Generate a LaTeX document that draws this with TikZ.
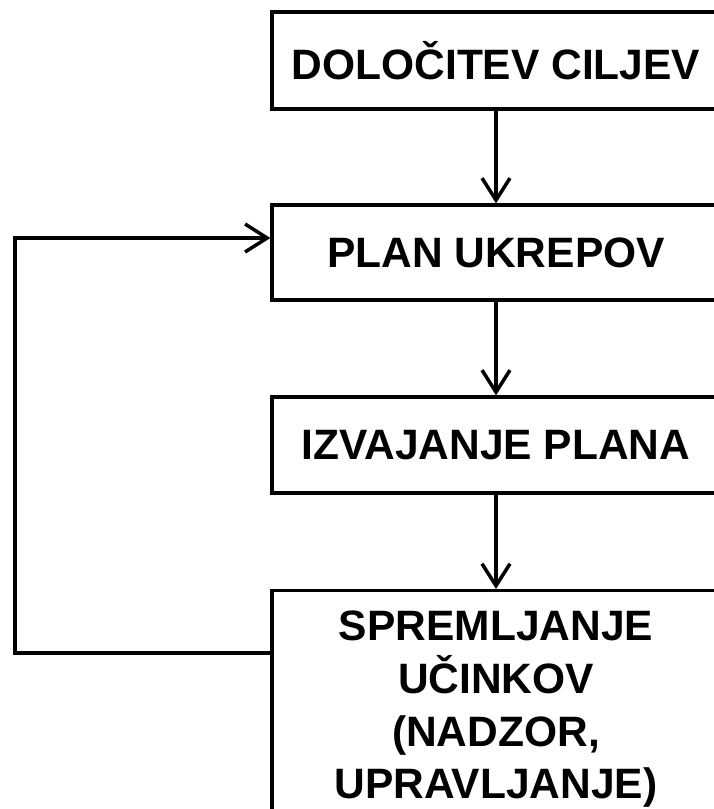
\documentclass[tikz,border=0pt]{standalone}
\usepackage{fontspec}
\setmainfont{Liberation Sans}
\usetikzlibrary{arrows.meta}
\begin{document}
\begin{tikzpicture}[x=1pt,y=-1pt,
  box/.style={draw=black,line width=3.3pt,rectangle,minimum width=448pt,align=center,
    font=\fontsize{42.5}{52.7}\selectfont\bfseries},
  conn/.style={line width=3.5pt,-{Straight Barb[length=22pt,width=28pt,line width=3.5pt]}}]
\useasboundingbox (0,0) rectangle (713,809);
\node[box,minimum height=97pt] (b1) at (496,60.5) {DOLOČITEV CILJEV};
\node[box,minimum height=95pt] (b2) at (496,252.5) {PLAN UKREPOV};
\node[box,minimum height=96pt] (b3) at (496,445) {IZVAJANJE PLANA};
\node[box,anchor=north,inner ysep=20.4pt] (b4) at (496,589) {SPREMLJANJE\\UČINKOV\\(NADZOR,\\UPRAVLJANJE)};
\draw[conn] (b1.south) -- (b2.north);
\draw[conn] (b2.south) -- (b3.north);
\draw[conn] (b3.south) -- (b4.north);
\coordinate (c1) at (15,653);
\coordinate (c2) at (15,238);
\draw[conn,line join=miter] (b4.west |- c1) -- (c1) -- (c2) -- (c2 -| b2.west);
\end{tikzpicture}
\end{document}
